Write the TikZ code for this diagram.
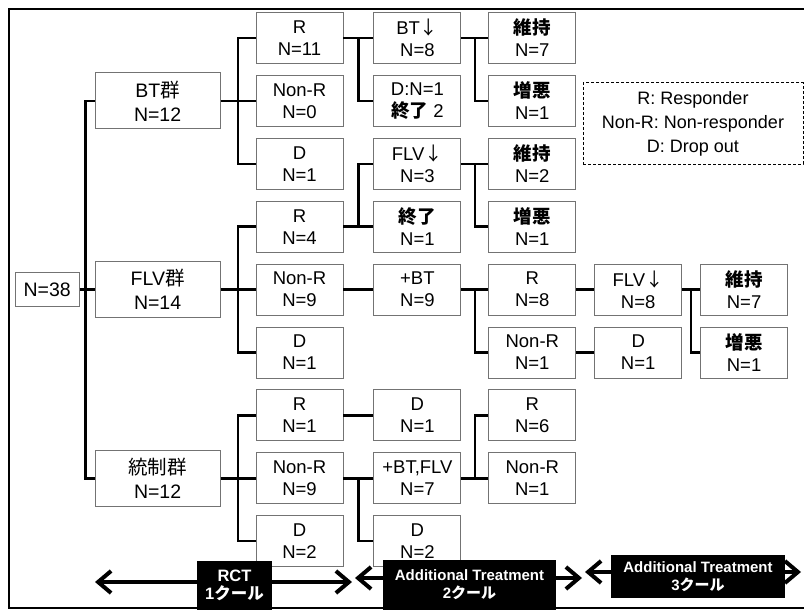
\documentclass[tikz,border=0pt]{standalone}
\usepackage{fontspec}
\setmainfont{Liberation Sans}
\newfontfamily\jp{Noto Sans CJK JP}
\usetikzlibrary{arrows.meta, positioning, calc}

\begin{document}
\begin{tikzpicture}[
      x=1pt, y=1pt,
      node distance=11pt,
      box/.style={draw=black!55, line width=0.9pt, align=center,
        minimum width=87pt, minimum height=51pt, inner sep=0pt,
        font=\fontsize{18.5}{22}\selectfont},
      grp/.style={box, minimum width=125pt, minimum height=56pt,
        font=\fontsize{19.5}{24}\selectfont},
      phase/.style={fill=black, text=white, align=center, inner sep=0pt,
        font=\bfseries\fontsize{15}{18}\selectfont},
      link/.style={line width=2.5pt},
      span/.style={-{Straight Barb[length=13pt,width=22pt]}, line width=4pt},
      frame/.style={line width=2.5pt}
    ]
    \useasboundingbox (0,0) rectangle (804,-610);
    \draw[frame] (804,-9) -| (9,-608) -- (804,-608);

    % 1st course
    \node[box] (bt-r) at (299.5,-38) {R\\N=11};
    \node[box, below=of bt-r] (bt-nonr) {Non-R\\N=0};
    \node[box, below=of bt-nonr] (bt-d) {D\\N=1};
    \node[box, below=of bt-d] (flv-r) {R\\N=4};
    \node[box, below=of flv-r] (flv-nonr) {Non-R\\N=9};
    \node[box, below=of flv-nonr] (flv-d) {D\\N=1};
    \node[box, below=of flv-d] (ctl-r) {R\\N=1};
    \node[box, below=of ctl-r] (ctl-nonr) {Non-R\\N=9};
    \node[box, below=of ctl-nonr] (ctl-d) {D\\N=2};

    \node[grp, left=35pt of bt-nonr] (bt) {BT{\jp 群}\\N=12};
    \node[grp, left=35pt of flv-nonr] (flv) {FLV{\jp 群}\\N=14};
    \node[grp, left=35pt of ctl-nonr] (ctl) {{\jp 統制群}\\N=12};
    \node[box, minimum width=64pt, minimum height=34pt,
      font=\fontsize{19.5}{22}\selectfont, left=15pt of flv] (all) {N=38};

    % 2nd course
    \node[box, right=30pt of bt-r] (bt-down) {BT{\jp ↓}\\N=8};
    \node[box, right=30pt of bt-nonr] (bt-end) {D:N=1\\{\jp\bfseries 終了} 2};
    \node[box, right=30pt of bt-d] (flv-down) {FLV{\jp ↓}\\N=3};
    \node[box, right=30pt of flv-r] (flv-end) {{\jp\bfseries 終了}\\N=1};
    \node[box, right=30pt of flv-nonr] (flv-add) {+BT\\N=9};
    \node[box, right=30pt of ctl-r] (ctl-add-d) {D\\N=1};
    \node[box, right=30pt of ctl-nonr] (ctl-add) {+BT,FLV\\N=7};
    \node[box, right=30pt of ctl-d] (ctl-add-d2) {D\\N=2};

    \node[box, right=27pt of bt-down] (bt-keep) {{\jp\bfseries 維持}\\N=7};
    \node[box, right=27pt of bt-end] (bt-worse) {{\jp\bfseries 増悪}\\N=1};
    \node[box, right=27pt of flv-down] (flv-keep) {{\jp\bfseries 維持}\\N=2};
    \node[box, right=27pt of flv-end] (flv-worse) {{\jp\bfseries 増悪}\\N=1};
    \node[box, right=27pt of flv-add] (flv-add-r) {R\\N=8};
    \node[box, below=of flv-add-r] (flv-add-nonr) {Non-R\\N=1};
    \node[box, right=27pt of ctl-add-d] (ctl-add-r) {R\\N=6};
    \node[box, right=27pt of ctl-add] (ctl-add-nonr) {Non-R\\N=1};

    % 3rd course
    \node[box, right=18pt of flv-add-r] (flv3-down) {FLV{\jp ↓}\\N=8};
    \node[box, right=18pt of flv-add-nonr] (flv3-d) {D\\N=1};
    \node[box, right=18pt of flv3-down] (flv3-keep) {{\jp\bfseries 維持}\\N=7};
    \node[box, right=18pt of flv3-d] (flv3-worse) {{\jp\bfseries 増悪}\\N=1};

    \node[draw, densely dashed, line width=1pt, minimum width=220pt,
      minimum height=81pt, align=center, font=\fontsize{18}{24}\selectfont]
      (legend) at (693,-123.5) {R: Responder\\Non-R: Non-responder\\D: Drop out};

    % tree
    \draw[link] (all) -- (flv);
    \coordinate (rootfork) at ($(all.east)!0.4!(flv.west)$);
    \draw[link] (bt.west) -| (rootfork) |- (ctl.west);

    \draw[link] (bt) -- (bt-nonr);
    \coordinate (btfork) at ($(bt.east)!0.5!(bt-nonr.west)$);
    \draw[link] (bt-r.west) -| (btfork) |- (bt-d.west);
    \draw[link] (flv) -- (flv-nonr);
    \coordinate (flvfork) at ($(flv.east)!0.5!(flv-nonr.west)$);
    \draw[link] (flv-r.west) -| (flvfork) |- (flv-d.west);
    \draw[link] (ctl) -- (ctl-nonr);
    \coordinate (ctlfork) at ($(ctl.east)!0.5!(ctl-nonr.west)$);
    \draw[link] (ctl-r.west) -| (ctlfork) |- (ctl-d.west);

    \draw[link] (bt-r) -- (bt-down);
    \coordinate (f1) at ($(bt-r.east)!0.5!(bt-down.west)$);
    \draw[link] (f1) |- (bt-end.west);
    \draw[link] (flv-r) -- (flv-end);
    \coordinate (f2) at ($(flv-r.east)!0.5!(flv-end.west)$);
    \draw[link] (f2) |- (flv-down.west);
    \draw[link] (flv-nonr) -- (flv-add);
    \draw[link] (ctl-r) -- (ctl-add-d);
    \draw[link] (ctl-nonr) -- (ctl-add);
    \coordinate (f3) at ($(ctl-nonr.east)!0.5!(ctl-add.west)$);
    \draw[link] (f3) |- (ctl-add-d2.west);

    \draw[link] (bt-down) -- (bt-keep);
    \coordinate (f4) at ($(bt-down.east)!0.5!(bt-keep.west)$);
    \draw[link] (f4) |- (bt-worse.west);
    \draw[link] (flv-down) -- (flv-keep);
    \coordinate (f5) at ($(flv-down.east)!0.5!(flv-keep.west)$);
    \draw[link] (f5) |- (flv-worse.west);
    \draw[link] (flv-add) -- (flv-add-r);
    \coordinate (f6) at ($(flv-add.east)!0.5!(flv-add-r.west)$);
    \draw[link] (f6) |- (flv-add-nonr.west);
    \draw[link] (ctl-add) -- (ctl-add-nonr);
    \coordinate (f7) at ($(ctl-add.east)!0.5!(ctl-add-nonr.west)$);
    \draw[link] (f7) |- (ctl-add-r.west);

    \draw[link] (flv-add-r) -- (flv3-down);
    \draw[link] (flv-add-nonr) -- (flv3-d);
    \draw[link] (flv3-down) -- (flv3-keep);
    \coordinate (f8) at ($(flv3-down.east)!0.5!(flv3-keep.west)$);
    \draw[link] (f8) |- (flv3-worse.west);

    % courses
    \node[phase, minimum width=75pt, minimum height=49pt,
      font=\bfseries\fontsize{16.5}{18}\selectfont] (rct) at (234.5,-585.5)
      {RCT\\1{\jp\bfseries クール}};
    \node[phase, minimum width=173pt, minimum height=50pt] (add2) at (469.5,-585)
      {Additional Treatment\\2{\jp\bfseries クール}};
    \node[phase, minimum width=174pt, minimum height=43pt] (add3) at (698,-576.5)
      {Additional Treatment\\3{\jp\bfseries クール}};

    \coordinate (rctL) at (95,-582);
    \coordinate (rctR) at (352,-582);
    \coordinate (add2L) at (355,-578);
    \coordinate (add2R) at (582,-578);
    \coordinate (add3L) at (585,-572);
    \coordinate (add3R) at (801,-572);
    \draw[span] ([yshift=3.5pt]rct.west) -- (rctL);
    \draw[span] ([yshift=3.5pt]rct.east) -- (rctR);
    \draw[span] ([yshift=7pt]add2.west) -- (add2L);
    \draw[span] ([yshift=7pt]add2.east) -- (add2R);
    \draw[span] ([yshift=4.5pt]add3.west) -- (add3L);
    \draw[span] ([yshift=4.5pt]add3.east) -- (add3R);
  \end{tikzpicture}
\end{document}
